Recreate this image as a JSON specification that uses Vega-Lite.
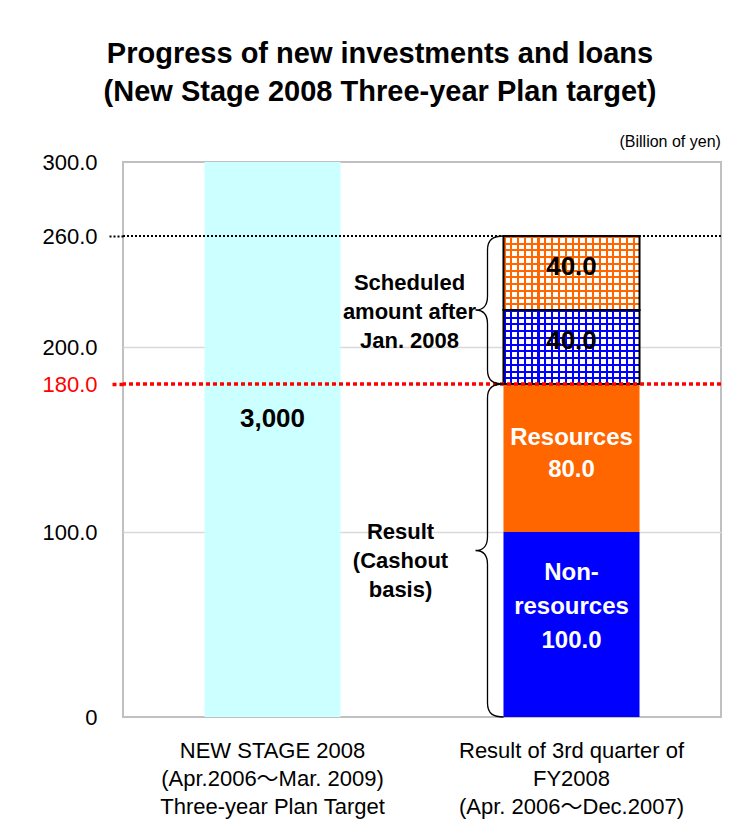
{
  "$schema": "https://vega.github.io/schema/vega-lite/v6.json",
  "width": 598,
  "height": 555,
  "autosize": {"type": "none"},
  "padding": {"left": 123, "top": 162, "right": 10, "bottom": 107},
  "background": "#ffffff",
  "title": {
    "text": ["Progress of new investments and loans", "(New Stage 2008 Three-year Plan target)"],
    "font": "Liberation Sans",
    "fontSize": 29,
    "fontWeight": "bold",
    "lineHeight": 38,
    "anchor": "middle",
    "dx": -42,
    "offset": 26,
    "color": "#000000"
  },
  "config": {
    "font": "Liberation Sans",
    "view": {"stroke": "#c0c0c0", "strokeWidth": 2}
  },
  "datasets": {
    "bars": [
      {"cat": "NEW STAGE 2008", "seg": "Target", "ord": 1, "value": 300, "label": "3,000"},
      {"cat": "Result of 3rd quarter of FY2008", "seg": "Non-resources", "ord": 1, "value": 100, "label": "Non-\nresources\n100.0"},
      {"cat": "Result of 3rd quarter of FY2008", "seg": "Resources", "ord": 2, "value": 80, "label": "Resources\n80.0"},
      {"cat": "Result of 3rd quarter of FY2008", "seg": "Scheduled non-resources", "ord": 3, "value": 40, "label": "40.0"},
      {"cat": "Result of 3rd quarter of FY2008", "seg": "Scheduled resources", "ord": 4, "value": 40, "label": "40.0"}
    ],
    "refs": [
      {"level": 260, "what": "Result plus scheduled amount"},
      {"level": 180, "what": "Result"}
    ],
    "braces": [
      {"cat": "Result of 3rd quarter of FY2008", "part": "scheduled", "text": "Scheduled\namount after\nJan. 2008", "bound": 180},
      {"cat": "Result of 3rd quarter of FY2008", "part": "scheduled", "text": "Scheduled\namount after\nJan. 2008", "bound": 260},
      {"cat": "Result of 3rd quarter of FY2008", "part": "result", "text": "Result\n(Cashout\nbasis)", "bound": 0},
      {"cat": "Result of 3rd quarter of FY2008", "part": "result", "text": "Result\n(Cashout\nbasis)", "bound": 180}
    ]
  },
  "layer": [
    {
      "data": {"name": "bars"},
      "transform": [
        {"stack": "value", "groupby": ["cat"], "sort": [{"field": "ord", "order": "ascending"}], "as": ["y0", "y1"]}
      ],
      "layer": [
        {
          "mark": {"type": "bar"},
          "encoding": {
            "x": {
              "field": "cat", "type": "nominal",
              "scale": {"paddingInner": 0.545, "paddingOuter": 0.2725},
              "axis": {
                "title": null,
                "labelAngle": 0,
                "labelExpr": "datum.value == 'NEW STAGE 2008' ? ['NEW STAGE 2008', '(Apr.2006～Mar. 2009)', 'Three-year Plan Target'] : ['Result of 3rd quarter of', 'FY2008', '(Apr. 2006～Dec.2007)']",
                "labelFont": "Liberation Sans, Noto Sans CJK JP",
                "labelFontSize": 22,
                "labelLineHeight": 28,
                "labelLimit": 400,
                "labelPadding": 23,
                "labelColor": "#000000",
                "ticks": false,
                "domain": false
              }
            },
            "y": {
              "field": "y0", "type": "quantitative",
              "scale": {"domain": [0, 300], "nice": false},
              "axis": {
                "values": [0, 100, 180, 200, 260, 300],
                "labelExpr": "datum.value == 0 ? '0' : format(datum.value, '.1f')",
                "labelFont": "Liberation Sans",
                "labelFontSize": 22,
                "labelPadding": 12,
                "labelColor": {"condition": {"test": "datum.value == 180", "value": "#ff0000"}, "value": "#000000"},
                "tickSize": 14,
                "tickColor": {"condition": [{"test": "datum.value == 180", "value": "#ff0000"}, {"test": "datum.value == 260", "value": "#000000"}], "value": "transparent"},
                "tickWidth": {"condition": {"test": "datum.value == 180", "value": 3.5}, "value": 2},
                "tickDash": {"condition": {"test": "datum.value == 180", "value": [4, 3]}, "value": [2, 2]},
                "grid": true,
                "gridColor": {"condition": {"test": "datum.value == 100 || datum.value == 200", "value": "#d9d9d9"}, "value": "transparent"},
                "gridWidth": 1.5,
                "domain": false,
                "title": "(Billion of yen)",
                "titleFont": "Liberation Sans",
                "titleFontSize": 16,
                "titleFontWeight": "normal",
                "titleColor": "#000000",
                "titleAngle": 0,
                "titleAlign": "left",
                "titleBaseline": "middle",
                "titleX": 496,
                "titleY": -21
              }
            },
            "y2": {"field": "y1"},
            "color": {
              "field": "seg", "type": "nominal",
              "scale": {
                "domain": ["Target", "Non-resources", "Resources", "Scheduled non-resources", "Scheduled resources"],
                "range": ["#ccffff", "#0000ff", "#ff6600", "#ffffff", "#ffffff"]
              },
              "legend": null
            }
          }
        },
        {
          "transform": [{"filter": "datum.seg == 'Scheduled non-resources'"}],
          "mark": {
            "type": "bar",
            "fill": {"gradient": "linear", "x1": 0, "y1": 0, "x2": 1, "y2": 0, "stops": [
              {"offset": 0, "color": "#0000ff"}, {"offset": 0.015, "color": "#0000ff"}, {"offset": 0.015, "color": "#ffffff"}, {"offset": 0.05, "color": "#ffffff"},
              {"offset": 0.05, "color": "#0000ff"}, {"offset": 0.065, "color": "#0000ff"}, {"offset": 0.065, "color": "#ffffff"}, {"offset": 0.1, "color": "#ffffff"},
              {"offset": 0.1, "color": "#0000ff"}, {"offset": 0.115, "color": "#0000ff"}, {"offset": 0.115, "color": "#ffffff"}, {"offset": 0.15, "color": "#ffffff"},
              {"offset": 0.15, "color": "#0000ff"}, {"offset": 0.165, "color": "#0000ff"}, {"offset": 0.165, "color": "#ffffff"}, {"offset": 0.2, "color": "#ffffff"},
              {"offset": 0.2, "color": "#0000ff"}, {"offset": 0.215, "color": "#0000ff"}, {"offset": 0.215, "color": "#ffffff"}, {"offset": 0.25, "color": "#ffffff"},
              {"offset": 0.25, "color": "#0000ff"}, {"offset": 0.265, "color": "#0000ff"}, {"offset": 0.265, "color": "#ffffff"}, {"offset": 0.3, "color": "#ffffff"},
              {"offset": 0.3, "color": "#0000ff"}, {"offset": 0.315, "color": "#0000ff"}, {"offset": 0.315, "color": "#ffffff"}, {"offset": 0.35, "color": "#ffffff"},
              {"offset": 0.35, "color": "#0000ff"}, {"offset": 0.365, "color": "#0000ff"}, {"offset": 0.365, "color": "#ffffff"}, {"offset": 0.4, "color": "#ffffff"},
              {"offset": 0.4, "color": "#0000ff"}, {"offset": 0.415, "color": "#0000ff"}, {"offset": 0.415, "color": "#ffffff"}, {"offset": 0.45, "color": "#ffffff"},
              {"offset": 0.45, "color": "#0000ff"}, {"offset": 0.465, "color": "#0000ff"}, {"offset": 0.465, "color": "#ffffff"}, {"offset": 0.5, "color": "#ffffff"},
              {"offset": 0.5, "color": "#0000ff"}, {"offset": 0.515, "color": "#0000ff"}, {"offset": 0.515, "color": "#ffffff"}, {"offset": 0.55, "color": "#ffffff"},
              {"offset": 0.55, "color": "#0000ff"}, {"offset": 0.565, "color": "#0000ff"}, {"offset": 0.565, "color": "#ffffff"}, {"offset": 0.6, "color": "#ffffff"},
              {"offset": 0.6, "color": "#0000ff"}, {"offset": 0.615, "color": "#0000ff"}, {"offset": 0.615, "color": "#ffffff"}, {"offset": 0.65, "color": "#ffffff"},
              {"offset": 0.65, "color": "#0000ff"}, {"offset": 0.665, "color": "#0000ff"}, {"offset": 0.665, "color": "#ffffff"}, {"offset": 0.7, "color": "#ffffff"},
              {"offset": 0.7, "color": "#0000ff"}, {"offset": 0.715, "color": "#0000ff"}, {"offset": 0.715, "color": "#ffffff"}, {"offset": 0.75, "color": "#ffffff"},
              {"offset": 0.75, "color": "#0000ff"}, {"offset": 0.765, "color": "#0000ff"}, {"offset": 0.765, "color": "#ffffff"}, {"offset": 0.8, "color": "#ffffff"},
              {"offset": 0.8, "color": "#0000ff"}, {"offset": 0.815, "color": "#0000ff"}, {"offset": 0.815, "color": "#ffffff"}, {"offset": 0.85, "color": "#ffffff"},
              {"offset": 0.85, "color": "#0000ff"}, {"offset": 0.865, "color": "#0000ff"}, {"offset": 0.865, "color": "#ffffff"}, {"offset": 0.9, "color": "#ffffff"},
              {"offset": 0.9, "color": "#0000ff"}, {"offset": 0.915, "color": "#0000ff"}, {"offset": 0.915, "color": "#ffffff"}, {"offset": 0.95, "color": "#ffffff"},
              {"offset": 0.95, "color": "#0000ff"}, {"offset": 0.965, "color": "#0000ff"}, {"offset": 0.965, "color": "#ffffff"}, {"offset": 1, "color": "#ffffff"}
            ]}
          },
          "encoding": {
            "x": {"field": "cat", "type": "nominal"},
            "y": {"field": "y0", "type": "quantitative"},
            "y2": {"field": "y1"}
          }
        },
        {
          "transform": [{"filter": "datum.seg == 'Scheduled non-resources'"}],
          "mark": {
            "type": "bar",
            "stroke": "#000000",
            "strokeWidth": 2,
            "fill": {"gradient": "linear", "x1": 0, "y1": 0, "x2": 0, "y2": 1, "stops": [
              {"offset": 0, "color": "#0000ff"}, {"offset": 0.027, "color": "#0000ff"}, {"offset": 0.027, "color": "rgba(0,0,255,0)"}, {"offset": 0.0909, "color": "rgba(0,0,255,0)"},
              {"offset": 0.0909, "color": "#0000ff"}, {"offset": 0.1179, "color": "#0000ff"}, {"offset": 0.1179, "color": "rgba(0,0,255,0)"}, {"offset": 0.1818, "color": "rgba(0,0,255,0)"},
              {"offset": 0.1818, "color": "#0000ff"}, {"offset": 0.2088, "color": "#0000ff"}, {"offset": 0.2088, "color": "rgba(0,0,255,0)"}, {"offset": 0.2727, "color": "rgba(0,0,255,0)"},
              {"offset": 0.2727, "color": "#0000ff"}, {"offset": 0.2997, "color": "#0000ff"}, {"offset": 0.2997, "color": "rgba(0,0,255,0)"}, {"offset": 0.3636, "color": "rgba(0,0,255,0)"},
              {"offset": 0.3636, "color": "#0000ff"}, {"offset": 0.3906, "color": "#0000ff"}, {"offset": 0.3906, "color": "rgba(0,0,255,0)"}, {"offset": 0.4545, "color": "rgba(0,0,255,0)"},
              {"offset": 0.4545, "color": "#0000ff"}, {"offset": 0.4815, "color": "#0000ff"}, {"offset": 0.4815, "color": "rgba(0,0,255,0)"}, {"offset": 0.5455, "color": "rgba(0,0,255,0)"},
              {"offset": 0.5455, "color": "#0000ff"}, {"offset": 0.5725, "color": "#0000ff"}, {"offset": 0.5725, "color": "rgba(0,0,255,0)"}, {"offset": 0.6364, "color": "rgba(0,0,255,0)"},
              {"offset": 0.6364, "color": "#0000ff"}, {"offset": 0.6634, "color": "#0000ff"}, {"offset": 0.6634, "color": "rgba(0,0,255,0)"}, {"offset": 0.7273, "color": "rgba(0,0,255,0)"},
              {"offset": 0.7273, "color": "#0000ff"}, {"offset": 0.7543, "color": "#0000ff"}, {"offset": 0.7543, "color": "rgba(0,0,255,0)"}, {"offset": 0.8182, "color": "rgba(0,0,255,0)"},
              {"offset": 0.8182, "color": "#0000ff"}, {"offset": 0.8452, "color": "#0000ff"}, {"offset": 0.8452, "color": "rgba(0,0,255,0)"}, {"offset": 0.9091, "color": "rgba(0,0,255,0)"},
              {"offset": 0.9091, "color": "#0000ff"}, {"offset": 0.9361, "color": "#0000ff"}, {"offset": 0.9361, "color": "rgba(0,0,255,0)"}, {"offset": 1, "color": "rgba(0,0,255,0)"}
            ]}
          },
          "encoding": {
            "x": {"field": "cat", "type": "nominal"},
            "y": {"field": "y0", "type": "quantitative"},
            "y2": {"field": "y1"}
          }
        },
        {
          "transform": [{"filter": "datum.seg == 'Scheduled resources'"}],
          "mark": {
            "type": "bar",
            "fill": {"gradient": "linear", "x1": 0, "y1": 0, "x2": 1, "y2": 0, "stops": [
              {"offset": 0, "color": "#ff6600"}, {"offset": 0.015, "color": "#ff6600"}, {"offset": 0.015, "color": "#ffffff"}, {"offset": 0.05, "color": "#ffffff"},
              {"offset": 0.05, "color": "#ff6600"}, {"offset": 0.065, "color": "#ff6600"}, {"offset": 0.065, "color": "#ffffff"}, {"offset": 0.1, "color": "#ffffff"},
              {"offset": 0.1, "color": "#ff6600"}, {"offset": 0.115, "color": "#ff6600"}, {"offset": 0.115, "color": "#ffffff"}, {"offset": 0.15, "color": "#ffffff"},
              {"offset": 0.15, "color": "#ff6600"}, {"offset": 0.165, "color": "#ff6600"}, {"offset": 0.165, "color": "#ffffff"}, {"offset": 0.2, "color": "#ffffff"},
              {"offset": 0.2, "color": "#ff6600"}, {"offset": 0.215, "color": "#ff6600"}, {"offset": 0.215, "color": "#ffffff"}, {"offset": 0.25, "color": "#ffffff"},
              {"offset": 0.25, "color": "#ff6600"}, {"offset": 0.265, "color": "#ff6600"}, {"offset": 0.265, "color": "#ffffff"}, {"offset": 0.3, "color": "#ffffff"},
              {"offset": 0.3, "color": "#ff6600"}, {"offset": 0.315, "color": "#ff6600"}, {"offset": 0.315, "color": "#ffffff"}, {"offset": 0.35, "color": "#ffffff"},
              {"offset": 0.35, "color": "#ff6600"}, {"offset": 0.365, "color": "#ff6600"}, {"offset": 0.365, "color": "#ffffff"}, {"offset": 0.4, "color": "#ffffff"},
              {"offset": 0.4, "color": "#ff6600"}, {"offset": 0.415, "color": "#ff6600"}, {"offset": 0.415, "color": "#ffffff"}, {"offset": 0.45, "color": "#ffffff"},
              {"offset": 0.45, "color": "#ff6600"}, {"offset": 0.465, "color": "#ff6600"}, {"offset": 0.465, "color": "#ffffff"}, {"offset": 0.5, "color": "#ffffff"},
              {"offset": 0.5, "color": "#ff6600"}, {"offset": 0.515, "color": "#ff6600"}, {"offset": 0.515, "color": "#ffffff"}, {"offset": 0.55, "color": "#ffffff"},
              {"offset": 0.55, "color": "#ff6600"}, {"offset": 0.565, "color": "#ff6600"}, {"offset": 0.565, "color": "#ffffff"}, {"offset": 0.6, "color": "#ffffff"},
              {"offset": 0.6, "color": "#ff6600"}, {"offset": 0.615, "color": "#ff6600"}, {"offset": 0.615, "color": "#ffffff"}, {"offset": 0.65, "color": "#ffffff"},
              {"offset": 0.65, "color": "#ff6600"}, {"offset": 0.665, "color": "#ff6600"}, {"offset": 0.665, "color": "#ffffff"}, {"offset": 0.7, "color": "#ffffff"},
              {"offset": 0.7, "color": "#ff6600"}, {"offset": 0.715, "color": "#ff6600"}, {"offset": 0.715, "color": "#ffffff"}, {"offset": 0.75, "color": "#ffffff"},
              {"offset": 0.75, "color": "#ff6600"}, {"offset": 0.765, "color": "#ff6600"}, {"offset": 0.765, "color": "#ffffff"}, {"offset": 0.8, "color": "#ffffff"},
              {"offset": 0.8, "color": "#ff6600"}, {"offset": 0.815, "color": "#ff6600"}, {"offset": 0.815, "color": "#ffffff"}, {"offset": 0.85, "color": "#ffffff"},
              {"offset": 0.85, "color": "#ff6600"}, {"offset": 0.865, "color": "#ff6600"}, {"offset": 0.865, "color": "#ffffff"}, {"offset": 0.9, "color": "#ffffff"},
              {"offset": 0.9, "color": "#ff6600"}, {"offset": 0.915, "color": "#ff6600"}, {"offset": 0.915, "color": "#ffffff"}, {"offset": 0.95, "color": "#ffffff"},
              {"offset": 0.95, "color": "#ff6600"}, {"offset": 0.965, "color": "#ff6600"}, {"offset": 0.965, "color": "#ffffff"}, {"offset": 1, "color": "#ffffff"}
            ]}
          },
          "encoding": {
            "x": {"field": "cat", "type": "nominal"},
            "y": {"field": "y0", "type": "quantitative"},
            "y2": {"field": "y1"}
          }
        },
        {
          "transform": [{"filter": "datum.seg == 'Scheduled resources'"}],
          "mark": {
            "type": "bar",
            "stroke": "#000000",
            "strokeWidth": 2,
            "fill": {"gradient": "linear", "x1": 0, "y1": 0, "x2": 0, "y2": 1, "stops": [
              {"offset": 0, "color": "#ff6600"}, {"offset": 0.027, "color": "#ff6600"}, {"offset": 0.027, "color": "rgba(255,102,0,0)"}, {"offset": 0.0909, "color": "rgba(255,102,0,0)"},
              {"offset": 0.0909, "color": "#ff6600"}, {"offset": 0.1179, "color": "#ff6600"}, {"offset": 0.1179, "color": "rgba(255,102,0,0)"}, {"offset": 0.1818, "color": "rgba(255,102,0,0)"},
              {"offset": 0.1818, "color": "#ff6600"}, {"offset": 0.2088, "color": "#ff6600"}, {"offset": 0.2088, "color": "rgba(255,102,0,0)"}, {"offset": 0.2727, "color": "rgba(255,102,0,0)"},
              {"offset": 0.2727, "color": "#ff6600"}, {"offset": 0.2997, "color": "#ff6600"}, {"offset": 0.2997, "color": "rgba(255,102,0,0)"}, {"offset": 0.3636, "color": "rgba(255,102,0,0)"},
              {"offset": 0.3636, "color": "#ff6600"}, {"offset": 0.3906, "color": "#ff6600"}, {"offset": 0.3906, "color": "rgba(255,102,0,0)"}, {"offset": 0.4545, "color": "rgba(255,102,0,0)"},
              {"offset": 0.4545, "color": "#ff6600"}, {"offset": 0.4815, "color": "#ff6600"}, {"offset": 0.4815, "color": "rgba(255,102,0,0)"}, {"offset": 0.5455, "color": "rgba(255,102,0,0)"},
              {"offset": 0.5455, "color": "#ff6600"}, {"offset": 0.5725, "color": "#ff6600"}, {"offset": 0.5725, "color": "rgba(255,102,0,0)"}, {"offset": 0.6364, "color": "rgba(255,102,0,0)"},
              {"offset": 0.6364, "color": "#ff6600"}, {"offset": 0.6634, "color": "#ff6600"}, {"offset": 0.6634, "color": "rgba(255,102,0,0)"}, {"offset": 0.7273, "color": "rgba(255,102,0,0)"},
              {"offset": 0.7273, "color": "#ff6600"}, {"offset": 0.7543, "color": "#ff6600"}, {"offset": 0.7543, "color": "rgba(255,102,0,0)"}, {"offset": 0.8182, "color": "rgba(255,102,0,0)"},
              {"offset": 0.8182, "color": "#ff6600"}, {"offset": 0.8452, "color": "#ff6600"}, {"offset": 0.8452, "color": "rgba(255,102,0,0)"}, {"offset": 0.9091, "color": "rgba(255,102,0,0)"},
              {"offset": 0.9091, "color": "#ff6600"}, {"offset": 0.9361, "color": "#ff6600"}, {"offset": 0.9361, "color": "rgba(255,102,0,0)"}, {"offset": 1, "color": "rgba(255,102,0,0)"}
            ]}
          },
          "encoding": {
            "x": {"field": "cat", "type": "nominal"},
            "y": {"field": "y0", "type": "quantitative"},
            "y2": {"field": "y1"}
          }
        },
        {
          "transform": [
            {"filter": "datum.seg == 'Target'"},
            {"fold": ["y0", "y1"], "as": ["edge", "pos"]}
          ],
          "mark": {"type": "text", "font": "Liberation Sans", "fontSize": 26, "fontWeight": "bold", "color": "#000000", "dy": -21, "baseline": "middle", "align": "center"},
          "encoding": {
            "x": {"field": "cat", "type": "nominal"},
            "y": {"aggregate": "mean", "field": "pos", "type": "quantitative"},
            "text": {"field": "label", "type": "nominal"},
            "detail": {"field": "seg", "type": "nominal"}
          }
        },
        {
          "transform": [
            {"filter": "datum.seg == 'Scheduled non-resources' || datum.seg == 'Scheduled resources'"},
            {"fold": ["y0", "y1"], "as": ["edge", "pos"]}
          ],
          "mark": {"type": "text", "font": "Liberation Sans", "fontSize": 26, "fontWeight": "bold", "color": "#000000", "dy": -6, "baseline": "middle", "align": "center"},
          "encoding": {
            "x": {"field": "cat", "type": "nominal"},
            "y": {"aggregate": "mean", "field": "pos", "type": "quantitative"},
            "text": {"field": "label", "type": "nominal"},
            "detail": {"field": "seg", "type": "nominal"}
          }
        },
        {
          "transform": [
            {"filter": "datum.seg == 'Non-resources'"},
            {"fold": ["y0", "y1"], "as": ["edge", "pos"]}
          ],
          "mark": {"type": "text", "font": "Liberation Sans", "fontSize": 24, "fontWeight": "bold", "color": "#ffffff", "dy": -52, "baseline": "middle", "align": "center", "lineBreak": "\n", "lineHeight": 34},
          "encoding": {
            "x": {"field": "cat", "type": "nominal"},
            "y": {"aggregate": "mean", "field": "pos", "type": "quantitative"},
            "text": {"field": "label", "type": "nominal"},
            "detail": {"field": "seg", "type": "nominal"}
          }
        },
        {
          "transform": [
            {"filter": "datum.seg == 'Resources'"},
            {"fold": ["y0", "y1"], "as": ["edge", "pos"]}
          ],
          "mark": {"type": "text", "font": "Liberation Sans", "fontSize": 24, "fontWeight": "bold", "color": "#ffffff", "dy": -20, "baseline": "middle", "align": "center", "lineBreak": "\n", "lineHeight": 32},
          "encoding": {
            "x": {"field": "cat", "type": "nominal"},
            "y": {"aggregate": "mean", "field": "pos", "type": "quantitative"},
            "text": {"field": "label", "type": "nominal"},
            "detail": {"field": "seg", "type": "nominal"}
          }
        }
      ]
    },
    {
      "data": {"name": "refs"},
      "layer": [
        {
          "transform": [{"filter": "datum.level == 260"}],
          "mark": {"type": "rule", "color": "#000000", "strokeWidth": 2, "strokeDash": [2, 2]},
          "encoding": {"y": {"field": "level", "type": "quantitative"}}
        },
        {
          "transform": [{"filter": "datum.level == 180"}],
          "mark": {"type": "rule", "color": "#ff0000", "strokeWidth": 3.5, "strokeDash": [4, 3]},
          "encoding": {"y": {"field": "level", "type": "quantitative"}}
        }
      ]
    },
    {
      "data": {"name": "braces"},
      "layer": [
        {
          "transform": [{"filter": "datum.part == 'scheduled'"}],
          "mark": {
            "type": "point", "filled": false, "color": "#000000", "strokeWidth": 1.3, "opacity": 1,
            "shape": "M -0.919 -1 C -1.05 -1 -1.135 -0.96 -1.135 -0.81 L -1.135 -0.19 C -1.135 -0.05 -1.2 0 -1.297 0 C -1.2 0 -1.135 0.05 -1.135 0.19 L -1.135 0.81 C -1.135 0.96 -1.05 1 -0.919 1",
            "size": 21904
          },
          "encoding": {
            "x": {"field": "cat", "type": "nominal"},
            "y": {"aggregate": "mean", "field": "bound", "type": "quantitative"}
          }
        },
        {
          "transform": [{"filter": "datum.part == 'result'"}],
          "mark": {
            "type": "point", "filled": false, "color": "#000000", "strokeWidth": 1.3, "opacity": 1,
            "shape": "M -0.408 -1 C -0.467 -1 -0.5045 -0.982 -0.5045 -0.916 L -0.5045 -0.084 C -0.5045 -0.022 -0.533 0 -0.5766 0 C -0.533 0 -0.5045 0.022 -0.5045 0.084 L -0.5045 0.916 C -0.5045 0.982 -0.467 1 -0.408 1",
            "size": 110889
          },
          "encoding": {
            "x": {"field": "cat", "type": "nominal"},
            "y": {"aggregate": "mean", "field": "bound", "type": "quantitative"}
          }
        },
        {
          "transform": [{"filter": "datum.part == 'scheduled'"}],
          "mark": {"type": "text", "font": "Liberation Sans", "fontSize": 22, "fontWeight": "bold", "color": "#000000", "dx": -162, "dy": -27, "align": "center", "baseline": "middle", "lineBreak": "\n", "lineHeight": 29},
          "encoding": {
            "x": {"field": "cat", "type": "nominal"},
            "y": {"aggregate": "mean", "field": "bound", "type": "quantitative"},
            "text": {"field": "text", "type": "nominal"}
          }
        },
        {
          "transform": [{"filter": "datum.part == 'result'"}],
          "mark": {"type": "text", "font": "Liberation Sans", "fontSize": 22, "fontWeight": "bold", "color": "#000000", "dx": -171, "dy": -19, "align": "center", "baseline": "middle", "lineBreak": "\n", "lineHeight": 29},
          "encoding": {
            "x": {"field": "cat", "type": "nominal"},
            "y": {"aggregate": "mean", "field": "bound", "type": "quantitative"},
            "text": {"field": "text", "type": "nominal"}
          }
        }
      ]
    }
  ]
}
